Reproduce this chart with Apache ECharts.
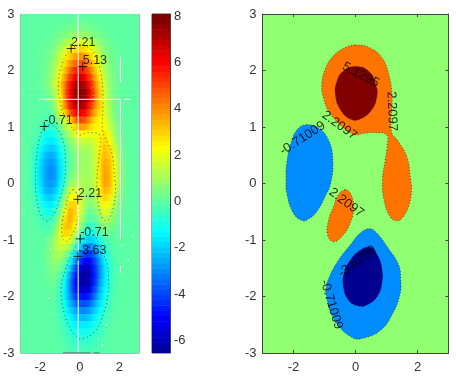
<!DOCTYPE html>
<html>
<head>
<meta charset="utf-8">
<style>html,body{margin:0;padding:0;background:#fff}#main{width:456px;height:380px}</style>
<script src="https://cdn.jsdelivr.net/npm/echarts@6/dist/echarts.min.js"></script>
</head>
<body>
<div id="main"></div>
<script>
// x of each column in zRows: -3 .. 3, every 0.25
const zY = [3,2.875,2.75,2.625,2.5,2.375,2.25,2.125,2,1.875,1.75,1.625,1.5,1.375,1.25,1.125,1,.875,.75,.625,.5,.375,.25,.125,0,-.125,-.25,-.375,-.5,-.625,-.75,-.875,-1,-1.125,-1.25,-1.375,-1.5,-1.625,-1.75,-1.875,-2,-2.125,-2.25,-2.375,-2.5,-2.625,-2.75,-2.875,-3]
const zRows = [
[0,0,0,0,0,0,0,0,0,0,0,0,0,0,0,0,0,0,0,0,0,0,0,0,0],
[0,0,0,0,0,0,0,.03,.05,.08,.11,.14,.15,.14,.11,.08,.05,.03,0,0,0,0,0,0,0],
[0,0,0,0,0,.02,.04,.08,.15,.23,.31,.37,.4,.37,.31,.23,.15,.08,.04,.02,0,0,0,0,0],
[0,0,0,0,0,.04,.09,.19,.33,.5,.7,.84,.9,.84,.7,.5,.33,.19,.09,.04,0,0,0,0,0],
[0,0,0,0,.04,.09,.18,.39,.68,1.05,1.42,1.72,1.85,1.72,1.42,1.05,.68,.39,.18,.09,.04,0,0,0,0],
[0,0,0,.02,.06,.15,.3,.63,1.1,1.7,2.3,2.8,3,2.8,2.3,1.7,1.1,.63,.3,.15,.06,.02,0,0,0],
[0,0,0,.03,.08,.2,.4,.84,1.5,2.3,3.1,3.7,4,3.7,3.1,2.3,1.5,.84,.4,.2,.08,.03,0,0,0],
[0,0,0,.04,.1,.25,.5,1.03,1.8,2.8,3.8,4.55,4.9,4.55,3.8,2.8,1.8,1.03,.5,.25,.1,.04,0,0,0],
[0,0,0,.05,.12,.29,.58,1.2,2.1,3.3,4.5,5.4,5.8,5.4,4.5,3.3,2.1,1.2,.58,.29,.12,.05,0,0,0],
[0,0,0,.05,.13,.33,.66,1.4,2.5,3.8,5.1,6.2,6.7,6.2,5.1,3.8,2.5,1.4,.66,.33,.13,.05,0,0,0],
[0,0,0,.05,.15,.37,.75,1.6,2.8,4.3,5.8,7,7.5,7,5.8,4.3,2.8,1.6,.75,.37,.15,.05,0,0,0],
[0,0,0,.03,.05,.2,.55,1.2,2.6,4.4,6,7.4,8,7.6,6.3,4.6,3,1.7,.8,.3,.1,.03,0,0,0],
[0,0,0,.02,0,.05,.3,1,2.4,4.3,6,7.4,8,7.5,6.2,4.6,3,1.8,.9,.35,.1,.03,0,0,0],
[0,0,0,0,-.03,-.05,.2,.9,2.2,4,5.6,6.8,7.3,6.9,5.6,4.1,3,1.9,1,.4,.1,.03,0,0,0],
[0,0,0,0,-.05,-.1,-.1,.5,1.8,3,4.6,5.8,6.2,5.9,4.9,3.6,2.7,2,1.1,.5,.15,.03,0,0,0],
[0,0,0,0,-.1,-.2,-.4,0,1,1.7,2.9,4.3,5,4.8,3.9,2.9,2.4,2.1,1.3,.6,.2,.05,0,0,0],
[0,0,0,-.05,-.25,-.5,-.75,-.5,.3,1.1,1.9,2.9,3.7,3.6,3,2.5,2.4,2.4,1.6,.8,.3,.07,0,0,0],
[0,0,0,-.1,-.5,-1,-1.2,-.9,-.2,.5,1.1,1.8,2.3,2.3,2.1,2.1,2.2,2.7,2,1,.35,.1,0,0,0],
[0,0,-.05,-.3,-.8,-1.4,-1.7,-1.4,-.7,0,.6,1.2,1.5,1.5,1.5,1.8,2.3,3,2.4,1.3,.45,.1,0,0,0],
[0,0,-.1,-.5,-1.2,-1.8,-2.1,-1.9,-1.1,-.4,.3,.8,1.1,1.1,1.1,1.6,2.5,3.2,2.8,1.7,.6,.15,0,0,0],
[0,0,-.15,-.7,-1.5,-2.2,-2.5,-2.2,-1.4,-.6,.1,.6,.9,.9,1,1.5,2.6,3.4,3,2,.8,.2,.05,0,0],
[0,0,-.2,-.8,-1.7,-2.5,-2.8,-2.5,-1.6,-.7,0,.5,.8,.9,1,1.5,2.7,3.6,3.3,2.2,.9,.25,.05,0,0],
[0,0,-.2,-.9,-1.8,-2.6,-3,-2.7,-1.7,-.7,.1,.6,.9,.9,1,1.5,2.7,3.7,3.4,2.3,1,.3,.05,0,0],
[0,0,-.2,-.9,-1.8,-2.6,-3,-2.7,-1.7,-.6,.3,.8,1,1,1,1.5,2.7,3.75,3.5,2.3,1,.3,.05,0,0],
[0,0,-.2,-.85,-1.7,-2.5,-2.8,-2.5,-1.5,-.3,.8,1.2,1.2,1.1,1,1.5,2.6,3.7,3.4,2.2,.95,.25,.05,0,0],
[0,0,-.15,-.7,-1.5,-2.3,-2.5,-2.1,-1.1,.2,1.5,1.9,1.5,1.1,.9,1.3,2.4,3.4,3.1,2,.8,.2,.05,0,0],
[0,0,-.1,-.5,-1.2,-1.9,-2.1,-1.6,-.6,.8,2.2,2.5,1.8,1.1,.7,1.1,2,3,2.7,1.6,.6,.15,0,0,0],
[0,0,-.07,-.35,-.9,-1.4,-1.6,-1.1,-.1,1.5,3,2.9,2,1,.5,.8,1.6,2.5,2.1,1.2,.4,.1,0,0,0],
[0,0,-.05,-.2,-.6,-1,-1.1,-.6,.5,2.2,3.5,3,1.9,.8,.2,.4,1.1,1.9,1.6,.8,.3,.07,0,0,0],
[0,0,0,-.1,-.3,-.6,-.6,-.1,1.2,2.8,3.6,2.7,1.5,.4,-.1,0,.6,1.4,1.1,.5,.15,.03,0,0,0],
[0,0,0,-.05,-.15,-.3,-.2,.3,1.7,3.1,3.3,2.2,1,-.1,-.6,-.4,.2,.7,.6,.25,.07,0,0,0,0],
[0,0,0,0,-.05,-.1,.1,.7,2,2.9,2.8,1.5,.2,-.8,-1.2,-.9,-.3,.2,.2,.1,.03,0,0,0,0],
[0,0,0,0,0,.05,.35,1,1.8,2.3,1.9,.7,-.7,-1.7,-2.1,-1.7,-.9,-.35,-.1,0,0,0,0,0,0],
[0,0,0,0,0,.1,.5,1.1,1.5,1.5,.9,-.3,-1.8,-2.9,-3.2,-2.6,-1.6,-.8,-.3,-.05,0,0,0,0,0],
[0,0,0,0,0,.15,.55,1,1.1,.7,-.2,-1.6,-3,-4.1,-4.2,-3.5,-2.3,-1.2,-.5,-.15,-.03,0,0,0,0],
[0,0,0,0,0,.15,.5,.8,.7,.1,-1.1,-2.7,-4.1,-5,-5,-4,-2.7,-1.5,-.7,-.2,-.05,0,0,0,0],
[0,0,0,0,0,.1,.4,.55,.3,-.5,-1.9,-3.7,-5.1,-6.1,-5.7,-4.4,-3,-1.7,-.8,-.25,-.06,0,0,0,0],
[0,0,0,0,0,.1,.3,.35,-.05,-1,-2.6,-4.4,-5.8,-6.5,-6,-4.6,-3,-1.7,-.8,-.25,-.06,0,0,0,0],
[0,0,0,0,0,.05,.2,.15,-.3,-1.3,-3,-4.7,-5.9,-6.4,-5.8,-4.4,-2.8,-1.6,-.75,-.2,-.05,0,0,0,0],
[0,0,0,0,0,0,.1,.05,-.5,-1.5,-3,-4.5,-5.4,-5.8,-5.2,-3.9,-2.5,-1.4,-.65,-.2,-.04,0,0,0,0],
[0,0,0,0,0,0,.05,-.05,-.5,-1.5,-2.8,-3.9,-4.6,-4.9,-4.4,-3.3,-2.1,-1.2,-.5,-.15,-.03,0,0,0,0],
[0,0,0,0,0,0,0,-.1,-.45,-1.3,-2.3,-3.2,-3.7,-3.9,-3.5,-2.6,-1.7,-.9,-.4,-.1,-.02,0,0,0,0],
[0,0,0,0,0,0,0,-.1,-.4,-1,-1.8,-2.5,-2.9,-3,-2.7,-2,-1.3,-.7,-.3,-.08,0,0,0,0,0],
[0,0,0,0,0,0,0,-.07,-.3,-.8,-1.4,-1.9,-2.2,-2.3,-2,-1.5,-.95,-.5,-.2,-.05,0,0,0,0,0],
[0,0,0,0,0,0,0,-.05,-.2,-.55,-1,-1.4,-1.6,-1.6,-1.5,-1.1,-.7,-.35,-.15,-.03,0,0,0,0,0],
[0,0,0,0,0,0,0,0,-.15,-.35,-.7,-1,-1.1,-1.1,-1,-.75,-.45,-.22,-.1,0,0,0,0,0,0],
[0,0,0,0,0,0,0,0,-.1,-.25,-.45,-.65,-.75,-.72,-.65,-.5,-.3,-.15,-.05,0,0,0,0,0,0],
[0,0,0,0,0,0,0,0,-.05,-.15,-.3,-.4,-.45,-.45,-.4,-.3,-.18,-.08,-.03,0,0,0,0,0,0],
[0,0,0,0,0,0,0,0,0,-.08,-.17,-.23,-.27,-.26,-.23,-.17,-.1,-.04,0,0,0,0,0,0,0]
]

const xTicks = [-2, 0, 2]
const barTicks = [-6, -4, -2, 0, 2, 4, 6, 8]
const barLevels = [-6.44,-6.21,-5.98,-5.75,-5.52,-5.29,-5.06,-4.83,-4.60,-4.37,-4.15,-3.92,-3.69,-3.46,-3.23,-3.00,-2.77,-2.54,-2.31,-2.08,-1.85,-1.62,-1.39,-1.16,-0.93,-0.70,-0.47,-0.24,-0.01,0.22,0.44,0.67,0.90,1.13,1.36,1.59,1.82,2.05,2.28,2.51,2.74,2.97,3.20,3.43,3.66,3.89,4.12,4.35,4.58,4.81,5.04,5.27,5.50,5.73,5.96,6.19,6.42,6.65,6.88,7.11,7.33,7.56,7.79,8.02]

// contour outlines in data units [x, y]
const contourUpper = [[0,2.45],[.47,2.40],[.85,2.23],[1.06,1.96],[1.18,1.54],[1.16,.92],[1.39,.74],[1.66,.47],[1.78,.06],[1.81,-.11],[1.71,-.41],[1.49,-.62],[1.33,-.66],[1.12,-.59],[.92,-.29],[.87,.06],[.96,.42],[1.03,.71],[1.01,.86],[.69,.90],[.26,.89],[.02,.86],[-.23,.92],[-.55,1.07],[-.87,1.28],[-1.03,1.51],[-1.09,1.72],[-.98,2.02],[-.71,2.26],[-.39,2.39]]
const contourPeak = [[0,2.07],[.42,1.99],[.67,1.72],[.69,1.54],[.53,1.31],[.15,1.14],[-.17,1.14],[-.49,1.31],[-.65,1.57],[-.60,1.81],[-.39,1.99]]
const contourLeftDip = [[-1.57,1.04],[-1.19,.98],[-.87,.77],[-.73,.42],[-.80,0],[-.98,-.23],[-1.25,-.50],[-1.52,-.63],[-1.70,-.66],[-2.0,-.53],[-2.22,-.17],[-2.24,.065],[-2.22,.36],[-2.05,.77],[-1.84,.98]]
const contourMid = [[-.33,-.11],[-.17,-.17],[-.06,-.41],[-.17,-.70],[-.44,-.94],[-.71,-1.03],[-.90,-.91],[-.87,-.65],[-.71,-.41],[-.55,-.20]]
const contourLow = [[.45,-.80],[.69,-.88],[1.06,-1.15],[1.39,-1.44],[1.46,-1.71],[1.44,-1.95],[1.2,-2.3],[.8,-2.6],[.15,-2.75],[-.12,-2.72],[-.55,-2.52],[-.8,-2.28],[-.92,-2.05],[-.95,-1.85],[-.84,-1.65],[-.55,-1.36],[-.17,-1.09],[.15,-.88]]
const contourLowCore = [[.47,-1.13],[.71,-1.27],[.85,-1.50],[.85,-1.77],[.69,-2.01],[.37,-2.15],[.10,-2.17],[-.22,-2.07],[-.39,-1.83],[-.37,-1.59],[-.17,-1.36],[.15,-1.18]]
const contours = [contourUpper, contourPeak, contourLeftDip, contourMid, contourLow, contourLowCore]
const contourFills = ['#ff7300', '#800000', '#008cff', '#ff7300', '#008cff', '#00008f']

// "+" labels on the left plot
const markX = [-.44, .15, -1.8, -.1, .02, -.09]
const markY = [2.39, 2.07, 1.01, -.28, -.98, -1.29]
const markText = ['2.21', '5.13', '-0.71', '2.21', '-0.71', '-3.63']

// rotated labels on the right plot
const labelX = [.17, 1.17, -.52, -1.71, -.30, .06, -.78]
const labelY = [1.92, 1.28, 1.03, .80, -.34, -1.38, -2.14]
const labelText = ['5.1295', '2.2097', '2.2097', '-0.71009', '2.2097', '-3.6299', '-0.71009']
const labelAngle = [-28, -88, -36, 33, -37, 37, -73]

// white scratches and dark dashes on the left plot
const whiteLines = [
  [[-.08,3],[-.08,-3]],
  [[-2.05,1.49],[2.05,1.49]],
  [[2.06,1.49],[2.06,-.98]],
  [[2.06,2.25],[2.06,1.79]],
  [[2.06,-1.46],[2.06,-1.58]],
  [[2.25,1.49],[2.55,1.49]]
]
const whiteDots = [[-1.62,-1],[-1.49,-1.16],[-1.59,-2.03],[2.7,-.94],[2.13,-1.09],[2.46,-1.35],[1.35,-2.5],[.94,-2.75],[1.14,-2.86]]
const darkLines = [[[-.85,-3],[.55,-3]],[[.7,-3],[1,-3]]]

const cMin = -6.55, cMax = 8.1
const jet = ['#000080','#0000ff','#0080ff','#00ffff','#80ff80','#ffff00','#ff8000','#ff0000','#800000']

function jetColor(v) {
  let t = (v - cMin) / (cMax - cMin) + .018
  return echarts.color.lerp(Math.max(0, Math.min(1, t)), jet)
}

function heatRow(params, api) {
  const row = zRows[params.dataIndex]
  const y = zY[params.dataIndex]
  const a = api.coord([-3, y + .0625])
  const b = api.coord([3, y - .0625])
  return {
    type: 'rect',
    shape: {x: a[0], y: a[1], width: b[0] - a[0], height: b[1] - a[1] + .6},
    style: {
      fill: {
        type: 'linear', x: 0, y: 0, x2: 1, y2: 0,
        colorStops: row.map((v, i) => ({offset: i / (row.length - 1), color: jetColor(v)}))
      }
    }
  }
}

function barCell(params, api) {
  const v = barLevels[params.dataIndex]
  const a = api.coord([0, v + .115])
  const b = api.coord([1, v - .115])
  return {
    type: 'rect',
    shape: {x: a[0], y: a[1], width: b[0] - a[0], height: b[1] - a[1] + .5},
    style: {fill: jetColor(v)}
  }
}

function contourLine(params, api) {
  return {
    type: 'polygon',
    shape: {points: contours[params.dataIndex].map(p => api.coord(p)), smooth: .45},
    style: {fill: 'none', stroke: '#333', lineWidth: .8, lineDash: [1, 3]}
  }
}

function contourFill(params, api) {
  return {
    type: 'polygon',
    shape: {points: contours[params.dataIndex].map(p => api.coord(p)), smooth: .45},
    style: {fill: contourFills[params.dataIndex], stroke: '#222', lineWidth: .7, lineDash: [1, 2]}
  }
}

const font = 'Liberation Sans'
const tickText = {color: '#333', fontFamily: font, fontSize: 13}

function xAxis(grid, ticks, pos) {
  return {
    type: 'value', gridIndex: grid, min: -3, max: 3, position: pos,
    axisLine: {onZero: false, lineStyle: {color: grid === 0 ? '#b4b4b4' : '#444'}},
    axisTick: {show: ticks, inside: true, length: 3, lineStyle: {color: '#444'}, customValues: xTicks},
    axisLabel: pos === 'bottom' ? {...tickText, margin: 8, customValues: xTicks} : {show: false},
    splitLine: {show: false}
  }
}

function yAxis(grid, ticks, pos) {
  return {
    type: 'value', gridIndex: grid, min: -3, max: 3, interval: 1, position: pos,
    axisLine: {onZero: false, lineStyle: {color: grid === 0 ? '#b4b4b4' : '#444'}},
    axisTick: {show: ticks, inside: true, length: 3, lineStyle: {color: '#444'}},
    axisLabel: pos === 'left' ? {...tickText, margin: 6} : {show: false},
    splitLine: {show: false}
  }
}

const series = [
  {type: 'custom', xAxisIndex: 0, yAxisIndex: 0, clip: true, renderItem: heatRow, data: zY, silent: true, z: 2},
  {type: 'custom', xAxisIndex: 0, yAxisIndex: 0, renderItem: contourLine, data: contours.map((c, i) => i), silent: true, z: 3},
  {type: 'scatter', xAxisIndex: 0, yAxisIndex: 0, symbol: 'path://M0,5H10M5,0V10', symbolSize: 9, silent: true, z: 5,
    itemStyle: {color: 'none', borderColor: '#000', borderWidth: 1},
    label: {show: true, position: 'right', distance: 0, offset: [-7, -6], color: '#000', fontFamily: font, fontSize: 12.5,
      formatter: p => markText[p.dataIndex]},
    data: markX.map((x, i) => [x, markY[i]])},
  {type: 'scatter', xAxisIndex: 0, yAxisIndex: 0, symbol: 'rect', symbolSize: 1.5, silent: true, z: 4,
    itemStyle: {color: '#fff'}, data: whiteDots},
  {type: 'custom', xAxisIndex: 1, yAxisIndex: 1, clip: true, renderItem: barCell, data: barLevels, silent: true, z: 2},
  {type: 'custom', xAxisIndex: 2, yAxisIndex: 2, renderItem: contourFill, data: contours.map((c, i) => i), silent: true, z: 2},
  {type: 'scatter', xAxisIndex: 2, yAxisIndex: 2, symbolSize: 1, silent: true, z: 5,
    itemStyle: {color: 'none'},
    data: labelX.map((x, i) => ({
      value: [x, labelY[i]],
      label: {show: true, position: 'inside', rotate: labelAngle[i], color: '#000', fontFamily: font, fontSize: 13, formatter: labelText[i]}
    }))}
]

whiteLines.forEach(seg => series.push({
  type: 'line', xAxisIndex: 0, yAxisIndex: 0, data: seg, symbol: 'none', silent: true, z: 4,
  lineStyle: {color: '#fff', width: 1}
}))
darkLines.forEach(seg => series.push({
  type: 'line', xAxisIndex: 0, yAxisIndex: 0, data: seg, symbol: 'none', silent: true, z: 4,
  lineStyle: {color: '#555', width: 1.2}
}))

const chart = echarts.init(document.getElementById('main'), null, {renderer: 'canvas'})
chart.setOption({
  animation: false,
  backgroundColor: '#fff',
  grid: [
    {left: 19, top: 14, width: 120, height: 339, show: false},
    {left: 152, top: 14, width: 18, height: 339, show: true, borderColor: '#444', borderWidth: 1},
    {left: 262.5, top: 14, width: 186, height: 339, show: true, backgroundColor: '#90ff70', borderWidth: 0}
  ],
  xAxis: [
    xAxis(0, false, 'bottom'),
    {type: 'value', gridIndex: 1, min: 0, max: 1, show: false},
    xAxis(2, true, 'bottom'),
    xAxis(2, true, 'top'),
    xAxis(0, false, 'top')
  ],
  yAxis: [
    yAxis(0, false, 'left'),
    {type: 'value', gridIndex: 1, min: cMin, max: cMax, position: 'right',
      axisLine: {show: true, onZero: false, lineStyle: {color: '#444'}},
      axisTick: {show: true, inside: true, length: 3, lineStyle: {color: '#444'}, customValues: barTicks},
      axisLabel: {...tickText, margin: 4, customValues: barTicks},
      splitLine: {show: false}},
    yAxis(2, true, 'left'),
    yAxis(2, true, 'right'),
    yAxis(0, false, 'right')
  ],
  series: series
})
</script>
</body>
</html>
